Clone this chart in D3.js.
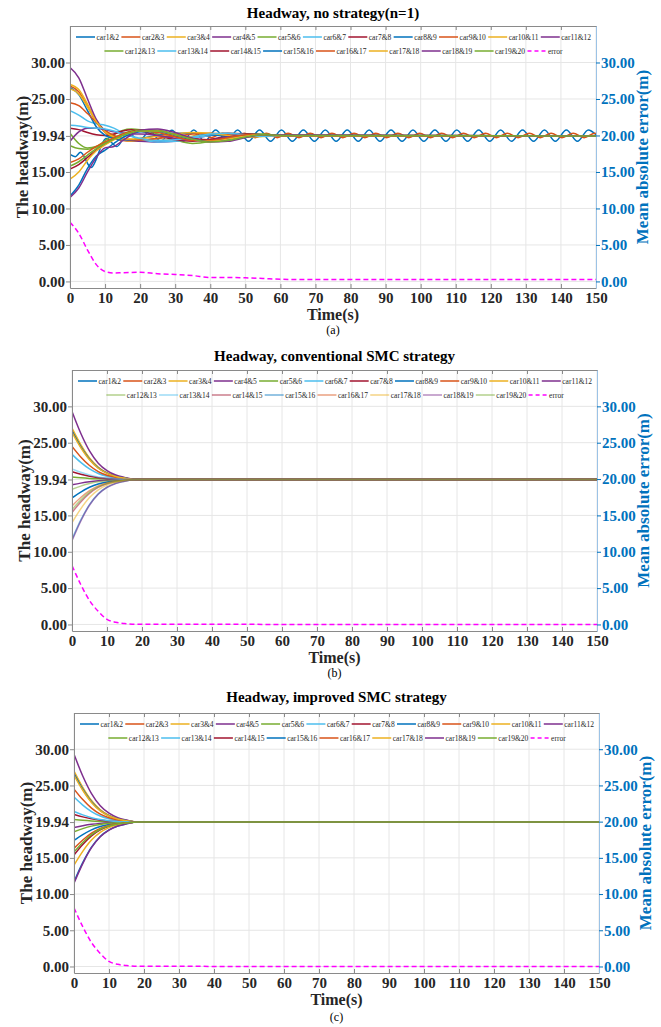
<!DOCTYPE html>
<html lang="en">
<head>
<meta charset="UTF-8">
<script src="https://cdn.jsdelivr.net/npm/d3@7"></script>
<style>
  body { margin: 0; background: #fff; }
  svg { display: block; background: #fff; font-family: "Liberation Serif", "Times New Roman", serif; }
  .tick text { font-family: "Liberation Serif", "Times New Roman", serif; font-size: 15px; font-weight: bold; }
</style>
</head>
<body>
<svg id="chart" width="661" height="1027"></svg>
<script>
// ---- data ----
var carPairs = ['car1&2','car2&3','car3&4','car4&5','car5&6','car6&7','car7&8','car8&9','car9&10','car10&11',
                'car11&12','car12&13','car13&14','car14&15','car15&16','car16&17','car17&18','car18&19','car19&20'];
var timeTicks = [0,10,20,30,40,50,60,70,80,90,100,110,120,130,140,150];
var leftTicks = [0,5,10,15,19.94,25,30];
var rightTicks = [0,5,10,15,20,25,30];

// (a) no strategy: car1&2 and car2&3 keep oscillating, the rest settle
var car1A = [[0,17.4],[1.5,17.1],[3,17.7],[6,15.6],[10.3,19.6],[13.4,18.5],[16.55,20.4],[19.7,19.3],[22.8,20.6],
  [25.9,19.2],[29.05,20.7],[32.2,19.2],[35.3,20.75],[38.4,19.2],[41.55,20.75],[44.7,19.2],[47.8,20.75],[50.9,19.2],
  [54.05,20.75],[57.2,19.2],[60.3,20.75],[63.4,19.2],[66.55,20.75],[69.7,19.2],[72.8,20.75],[75.9,19.2],[79.05,20.75],
  [82.2,19.2],[85.3,20.75],[88.4,19.2],[91.55,20.75],[94.7,19.2],[97.8,20.75],[100.9,19.2],[104.05,20.75],[107.2,19.2],
  [110.3,20.75],[113.4,19.2],[116.55,20.75],[119.7,19.2],[122.8,20.75],[125.9,19.2],[129.05,20.75],[132.2,19.2],
  [135.3,20.75],[138.4,19.2],[141.55,20.75],[144.7,19.2],[147.8,20.75],[150,20.1]];
var car2A = [[0,26.8],[2.5,26.0],[5,24.0],[7.5,21.8],[10,20.4],[12.5,19.6],[15,19.3],[17.5,19.2],[20,19.3],[25,19.6],
  [30,19.9],[34.1,19.7],[37.2,20.3],[40.3,19.7],[43.5,20.3],[46.6,19.7],[49.7,20.3],[52.8,19.7],[56.0,20.3],[59.1,19.7],
  [62.2,20.3],[65.3,19.7],[68.5,20.3],[71.6,19.7],[74.7,20.3],[77.8,19.7],[81.0,20.3],[84.1,19.7],[87.2,20.3],[90.3,19.7],
  [93.5,20.3],[96.6,19.7],[99.7,20.3],[102.8,19.7],[106.0,20.3],[109.1,19.7],[112.2,20.3],[115.3,19.7],[118.5,20.3],
  [121.6,19.7],[124.7,20.3],[127.8,19.7],[131.0,20.3],[134.1,19.7],[137.2,20.3],[140.3,19.7],[143.5,20.3],[146.6,19.7],
  [149.7,20.3],[150,20.25]];
var timeA = [0,2.5,5,7.5,10,12.5,15,17.5,20,25,30,35,40,45,50,55,60,150];
// car3&4 ... car19&20
var headwayA = [
  [27.0,26.3,24.3,22.0,20.6,19.8,19.4,19.2,19.2,19.3,19.5,19.9,20.2,20.3,20.2,20.0,19.95,19.94],
  [29.3,27.9,25.0,22.2,20.6,19.9,19.5,19.3,19.2,19.1,19.2,19.6,20.0,20.3,20.2,20.05,19.95,19.94],
  [20.3,18.9,18.3,18.5,19.3,20.1,20.7,20.9,20.8,20.2,19.4,18.9,19.2,19.8,20.2,20.2,20.0,19.94],
  [23.4,22.8,22.0,21.6,21.4,21.0,20.4,19.9,19.5,19.1,19.2,19.6,20.0,20.2,20.1,20.0,19.95,19.94],
  [21.0,20.8,20.4,20.1,20.0,20.2,20.6,20.8,20.6,20.0,19.4,19.2,19.5,19.9,20.2,20.1,19.95,19.94],
  [26.6,25.6,23.4,21.2,20.0,19.6,19.4,19.4,19.6,20.0,20.3,20.3,20.1,19.9,19.8,19.9,19.95,19.94],
  [24.5,24.1,23.0,21.8,20.7,20.0,19.6,19.4,19.4,19.6,19.9,20.2,20.3,20.1,19.9,19.9,19.95,19.94],
  [26.4,25.7,23.9,21.9,20.5,19.8,19.5,19.5,19.6,19.9,20.2,20.4,20.3,20.0,19.8,19.85,19.95,19.94],
  [19.2,20.5,21.0,21.0,20.8,20.5,20.3,20.2,20.2,20.0,19.6,19.3,19.4,19.8,20.1,20.1,20.0,19.94],
  [18.6,18.2,18.1,18.4,19.0,19.6,20.2,20.6,20.8,20.7,20.2,19.6,19.3,19.5,19.9,20.1,20.0,19.94],
  [21.4,21.3,21.1,21.0,20.9,20.6,20.2,19.9,19.6,19.3,19.4,19.8,20.2,20.3,20.1,19.9,19.95,19.94],
  [15.4,16.0,17.0,18.0,18.8,19.5,20.1,20.5,20.7,20.6,20.1,19.6,19.4,19.6,20.0,20.1,20.0,19.94],
  [11.7,13.2,15.5,17.2,18.0,18.9,19.7,20.2,20.5,20.5,20.0,19.4,19.2,19.5,19.9,20.1,20.0,19.94],
  [16.3,16.8,17.7,18.5,19.1,19.7,20.2,20.5,20.6,20.4,19.8,19.3,19.3,19.7,20.1,20.1,19.95,19.94],
  [14.0,15.0,16.6,17.9,18.7,19.4,20.0,20.4,20.6,20.6,20.1,19.5,19.2,19.5,19.9,20.1,20.0,19.94],
  [11.5,12.8,15.0,17.0,18.3,18.5,19.3,20.1,20.7,20.9,20.4,19.6,19.1,19.2,19.7,20.1,20.05,19.94],
  [15.8,16.4,17.3,18.2,18.9,19.5,20.0,20.4,20.6,20.6,20.1,19.5,19.1,19.3,19.8,20.1,20.0,19.94]
];
var timeErrA = [0,2.5,5,7.5,10,12.5,15,20,25,30,35,40,45,50,55,60,70,150];
var errorA = [8.1,6.6,4.3,2.3,1.35,1.15,1.2,1.25,1.05,0.95,0.8,0.55,0.55,0.5,0.4,0.3,0.25,0.25];

// (b) conventional SMC and (c) improved SMC converge alike
var timeSMC = [0,2.5,5,7.5,10,12.5,15,18,150];
var headwaySMC = [
  [17.4,18.21,18.87,19.33,19.61,19.78,19.86,19.94,19.94],
  [26.8,24.60,22.82,21.59,20.83,20.39,20.15,19.94,19.94],
  [27.0,24.74,22.91,21.63,20.86,20.40,20.15,19.94,19.94],
  [29.3,26.30,23.87,22.19,21.16,20.55,20.22,19.94,19.94],
  [20.3,20.18,20.09,20.03,19.99,19.96,19.95,19.94,19.94],
  [23.4,22.29,21.39,20.77,20.39,20.16,20.04,19.94,19.94],
  [21.0,20.66,20.39,20.19,20.08,20.01,19.97,19.94,19.94],
  [26.6,24.47,22.74,21.54,20.81,20.37,20.14,19.94,19.94],
  [24.5,23.04,21.86,21.03,20.53,20.24,20.08,19.94,19.94],
  [26.4,24.33,22.65,21.49,20.78,20.36,20.13,19.94,19.94],
  [19.2,19.44,19.63,19.76,19.84,19.89,19.92,19.94,19.94],
  [18.6,19.03,19.38,19.62,19.77,19.85,19.90,19.94,19.94],
  [21.4,20.93,20.55,20.29,20.13,20.03,19.98,19.94,19.94],
  [15.4,16.85,18.03,18.85,19.35,19.64,19.80,19.94,19.94],
  [11.7,14.34,16.48,17.96,18.87,19.40,19.69,19.94,19.94],
  [16.3,17.46,18.41,19.07,19.47,19.70,19.83,19.94,19.94],
  [14.0,15.90,17.45,18.51,19.17,19.55,19.76,19.94,19.94],
  [11.5,14.20,16.40,17.91,18.84,19.39,19.69,19.94,19.94],
  [15.8,17.12,18.20,18.95,19.40,19.67,19.82,19.94,19.94]
];
var errorSMC = [8.1,5.5,3.3,1.8,0.7,0.3,0.12,0.02,0.0];

// ---- drawing ----
var palette = ['#0072BD','#D95319','#EDB120','#7E2F8E','#77AC30','#4DBEEE','#A2142F'];
var serif = '"Liberation Serif", "Times New Roman", serif';
var svg = d3.select('#chart');

function zip(ts, vs) { return ts.map(function(t, i) { return [t, vs[i]]; }); }

var seriesA = [car1A, car2A].concat(headwayA.map(function(r) { return zip(timeA, r); }));
var seriesSMC = headwaySMC.map(function(r) { return zip(timeSMC, r); });

var panels = [
  { id: 'a', title: 'Headway, no strategy(n=1)', cap: '(a)', top: 26, bottom: 288, left: 70, right: 596,
    titleY: 13, capY: 330, series: seriesA, error: zip(timeErrA, errorA) },
  { id: 'b', title: 'Headway, conventional SMC strategy', cap: '(b)', top: 370, bottom: 631, left: 72, right: 597,
    titleY: 356, capY: 673, series: seriesSMC, error: zip(timeSMC, errorSMC), fade: true },
  { id: 'c', title: 'Headway, improved SMC strategy', cap: '(c)', top: 713, bottom: 973, left: 74, right: 599,
    titleY: 697, capY: 1017, series: seriesSMC, error: zip(timeSMC, errorSMC) }
];

function styleAxis(sel, lineColor, textColor) {
  sel.attr('font-family', serif).attr('font-size', 15).attr('font-weight', 'bold');
  sel.select('.domain').attr('stroke', lineColor);
  sel.selectAll('.tick line').attr('stroke', lineColor);
  sel.selectAll('.tick text').attr('fill', textColor);
  return sel;
}

panels.forEach(function(p) {
  var x = d3.scaleLinear().domain([0, 150]).range([p.left, p.right]);
  var y = d3.scaleLinear().domain([-0.9, 35]).range([p.bottom, p.top]);
  var g = svg.append('g');

  svg.append('clipPath').attr('id', 'clip' + p.id)
    .append('rect').attr('x', p.left).attr('y', p.top)
    .attr('width', p.right - p.left).attr('height', p.bottom - p.top);

  // grid
  g.append('g').selectAll('line').data(timeTicks).join('line')
    .attr('x1', function(d) { return x(d); }).attr('x2', function(d) { return x(d); })
    .attr('y1', p.top).attr('y2', p.bottom).attr('stroke', '#e6e6e6');
  g.append('g').selectAll('line').data(leftTicks).join('line')
    .attr('y1', function(d) { return y(d); }).attr('y2', function(d) { return y(d); })
    .attr('x1', p.left).attr('x2', p.right).attr('stroke', '#e6e6e6');

  // curves
  var line = d3.line().x(function(d) { return x(d[0]); }).y(function(d) { return y(d[1]); })
    .curve(d3.curveMonotoneX);
  var plot = g.append('g').attr('clip-path', 'url(#clip' + p.id + ')');
  p.series.forEach(function(s, i) {
    plot.append('path').datum(s).attr('d', line)
      .attr('fill', 'none').attr('stroke', palette[i % 7]).attr('stroke-width', 1.5)
      .attr('stroke-opacity', p.fade && i >= 11 ? 0.55 : 1);
  });
  plot.append('path').datum(p.error).attr('d', line)
    .attr('fill', 'none').attr('stroke', '#FF00FF').attr('stroke-width', 1.5)
    .attr('stroke-dasharray', '5,3');

  // axes
  var fmt = d3.format('.2f');
  styleAxis(g.append('g').attr('transform', 'translate(' + p.left + ',0)')
    .call(d3.axisLeft(y).tickValues(leftTicks).tickFormat(fmt).tickSize(4).tickSizeOuter(0).tickPadding(1)),
    '#8a8a8a', '#262626');
  styleAxis(g.append('g').attr('transform', 'translate(0,' + p.bottom + ')')
    .call(d3.axisBottom(x).tickValues(timeTicks).tickSize(-4).tickSizeOuter(0).tickPadding(4)),
    '#8a8a8a', '#262626');
  styleAxis(g.append('g').attr('transform', 'translate(0,' + p.top + ')')
    .call(d3.axisTop(x).tickValues(timeTicks).tickSize(-4).tickSizeOuter(0).tickFormat('')),
    '#8a8a8a', '#262626');
  styleAxis(g.append('g').attr('transform', 'translate(' + p.right + ',0)')
    .call(d3.axisRight(y).tickValues(rightTicks).tickFormat(fmt).tickSize(4).tickSizeOuter(0).tickPadding(1)),
    '#9cc3e6', '#0072BD')
    .selectAll('.tick line').attr('stroke', '#0072BD');

  // labels
  var midY = (p.top + p.bottom) / 2;
  g.append('text').attr('x', (p.left + p.right) / 2).attr('y', p.titleY).attr('dy', '0.35em')
    .attr('text-anchor', 'middle').attr('font-size', 15).attr('font-weight', 'bold').text(p.title);
  g.append('text').attr('transform', 'translate(' + (p.left - 48) + ',' + midY + ') rotate(-90)')
    .attr('dy', '0.35em').attr('text-anchor', 'middle').attr('font-size', 17).attr('font-weight', 'bold')
    .attr('fill', '#262626').text('The headway(m)');
  g.append('text').attr('transform', 'translate(' + (p.right + 46) + ',' + midY + ') rotate(-90)')
    .attr('dy', '0.35em').attr('text-anchor', 'middle').attr('font-size', 17).attr('font-weight', 'bold')
    .attr('fill', '#0072BD').text('Mean absolute error(m)');
  g.append('text').attr('x', (p.left + p.right) / 2).attr('y', p.bottom + 26).attr('dy', '0.35em')
    .attr('text-anchor', 'middle').attr('font-size', 16).attr('font-weight', 'bold')
    .attr('fill', '#262626').text('Time(s)');
  g.append('text').attr('x', (p.left + p.right) / 2).attr('y', p.capY).attr('dy', '0.35em')
    .attr('text-anchor', 'middle').attr('font-size', 12).text(p.cap);

  // legend, two rows inside the top of the axes
  var names = carPairs.concat(['error']);
  var lg = g.append('g');
  var items = names.map(function(n, i) {
    var it = lg.append('g');
    it.append('line').attr('x1', 0).attr('x2', 19).attr('y1', 0).attr('y2', 0)
      .attr('stroke', i < 19 ? palette[i % 7] : '#FF00FF').attr('stroke-width', 1.5)
      .attr('stroke-dasharray', i < 19 ? null : '4,3')
      .attr('stroke-opacity', p.fade && i >= 11 && i < 19 ? 0.55 : 1);
    var t = it.append('text').attr('x', 20.5).attr('dy', '0.35em').attr('font-size', 7.5)
      .attr('fill', '#262626').text(n);
    return { g: it, w: 20.5 + t.node().getComputedTextLength() };
  });
  var row1 = items.slice(0, 11), row2 = items.slice(11);
  var span = (p.right - 5) - (p.left + 6);
  var gap = (span - d3.sum(row1, function(d) { return d.w; })) / 10;
  var cx = p.left + 6;
  row1.forEach(function(d) { d.g.attr('transform', 'translate(' + cx + ',' + (p.top + 11) + ')'); cx += d.w + gap; });
  var w2 = d3.sum(row2, function(d) { return d.w; }) + gap * 8;
  cx = (p.left + 6 + p.right - 5) / 2 - w2 / 2;
  row2.forEach(function(d) { d.g.attr('transform', 'translate(' + cx + ',' + (p.top + 25) + ')'); cx += d.w + gap; });
});
</script>
</body>
</html>
